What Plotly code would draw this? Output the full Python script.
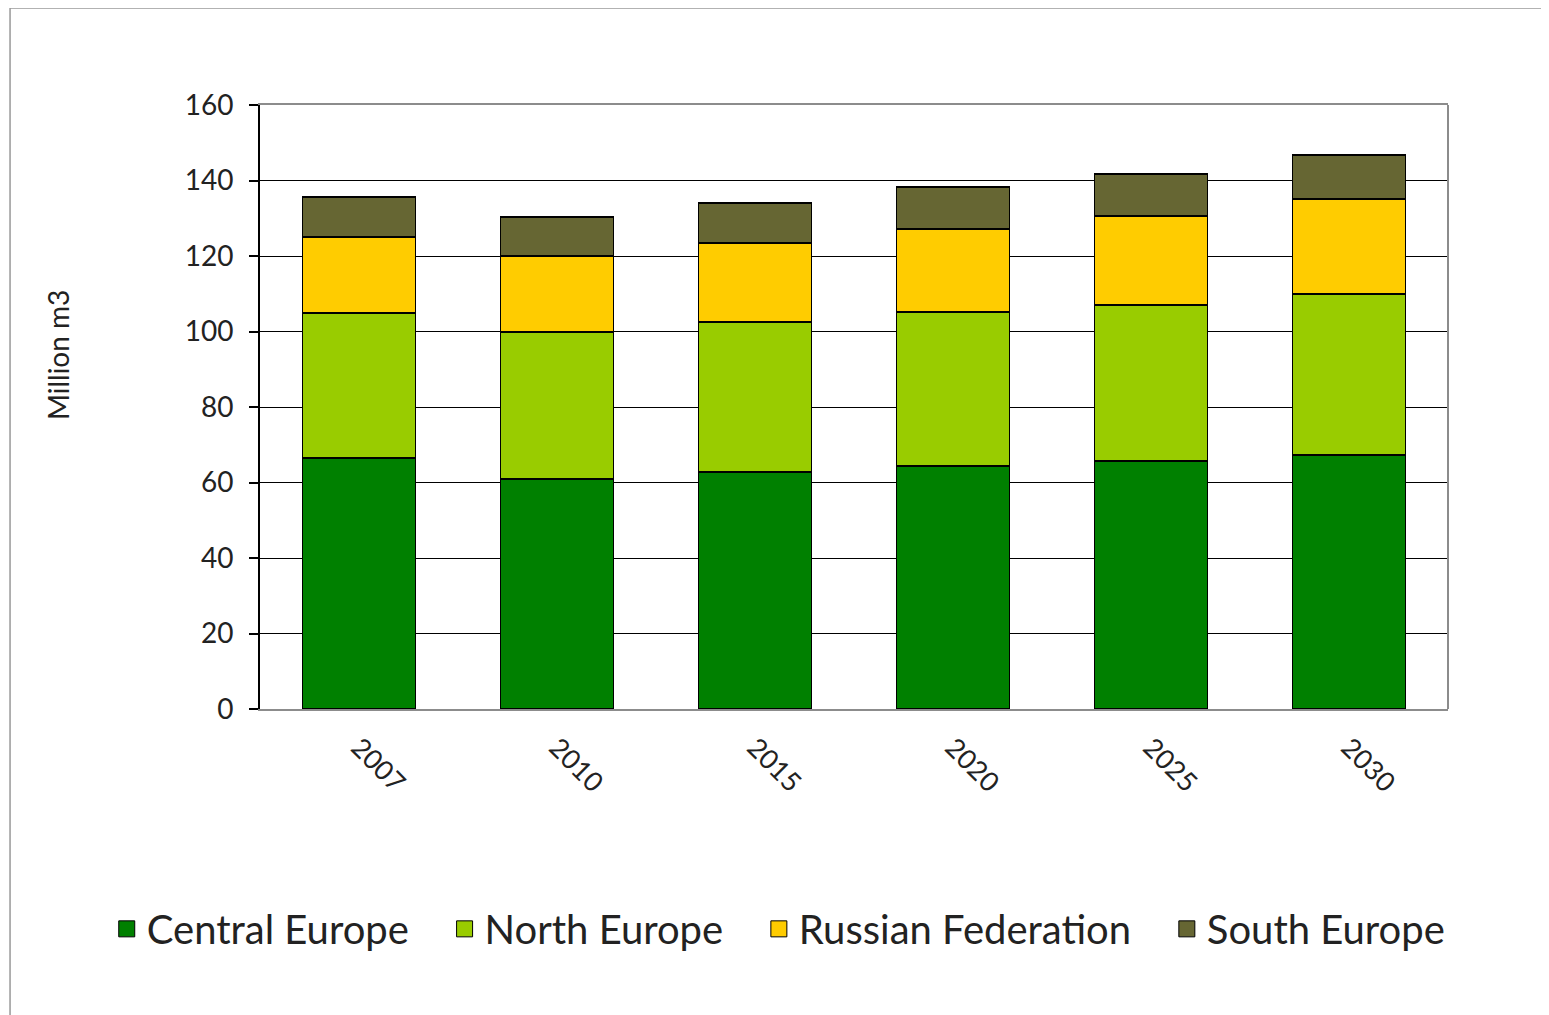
import plotly.graph_objects as go

years = ["2007", "2010", "2015", "2020", "2025", "2030"]
central_europe = [66.5, 60.9, 62.8, 64.4, 65.7, 67.3]
north_europe = [38.4, 39.0, 39.7, 40.8, 41.3, 42.6]
russian_federation = [20.1, 20.1, 20.9, 22.0, 23.6, 25.2]
south_europe = [10.6, 10.3, 10.6, 11.1, 11.1, 11.7]

series = [
    ("Central Europe", central_europe, "#008000"),
    ("North Europe", north_europe, "#99CC00"),
    ("Russian Federation", russian_federation, "#FFCC00"),
    ("South Europe", south_europe, "#666633"),
]

FONT = "Lato, Liberation Sans, sans-serif"
PAD = "\u00a0" * 3  # extra room between legend entries

fig = go.Figure()
for name, vals, color in series:
    fig.add_trace(go.Bar(
        x=years, y=vals, name=name, marker_color=color,
        marker_line=dict(color="black", width=1.5), showlegend=False
    ))
# legend entries with bigger square swatches
for i, (name, vals, color) in enumerate(series):
    fig.add_trace(go.Scatter(
        x=[None], y=[None], mode="markers",
        name=name + (PAD if i < len(series) - 1 else ""),
        marker=dict(symbol="square", size=16, color=color, line=dict(color="black", width=1))
    ))

fig.update_layout(
    barmode="stack", bargap=0.43,
    width=1549, height=1015,
    margin=dict(l=252, r=109, t=97, b=314),
    paper_bgcolor="white", plot_bgcolor="white",
    font=dict(family=FONT, color="#222222"),
    showlegend=True,
    legend=dict(
        orientation="h", x=-0.129, y=-0.364, xanchor="left", yanchor="middle",
        font=dict(family=FONT, size=40, color="#222222"),
        traceorder="normal", itemclick=False,
    ),
    xaxis=dict(
        showline=True, linecolor="#8c8c8c", linewidth=2, mirror=True,
        showgrid=False, ticks="", tickangle=45,
        tickfont=dict(family=FONT, size=27, color="#222222"),
        ticklabelstandoff=10,
    ),
    yaxis=dict(
        range=[0, 160], dtick=20, showline=True, linecolor="black", linewidth=2,
        showgrid=True, gridcolor="black", gridwidth=1, zeroline=False,
        ticks="outside", ticklen=9, tickcolor="black", tickwidth=2,
        tickfont=dict(family=FONT, size=28, color="#222222"),
        ticklabelstandoff=10,
    ),
    annotations=[dict(
        text="Million m3", xref="paper", yref="paper", x=-0.17, y=0.586,
        textangle=-90, showarrow=False, xanchor="center", yanchor="middle",
        font=dict(family=FONT, size=28, color="#222222"),
    )],
    shapes=[
        dict(type="line", xref="paper", yref="paper", x0=1, x1=1, y0=0, y1=1,
             line=dict(color="#8c8c8c", width=2)),
        dict(type="rect", xref="paper", yref="paper", x0=-0.2104, x1=1.09,
             y0=-0.6, y1=1.1606, line=dict(color="#999999", width=1.5), layer="below"),
    ],
)

fig.write_html("out.html")
